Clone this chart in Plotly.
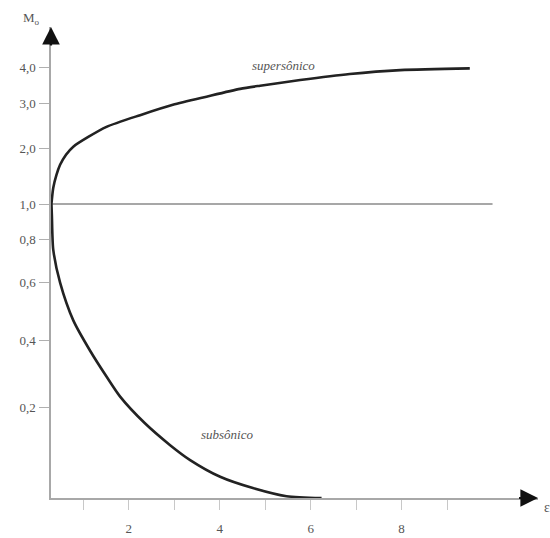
import numpy as np
import plotly.graph_objects as go

# ---- data (area ratio epsilon, Mach number) ----
sup_eps = [0.30, 0.34, 0.41, 0.49, 0.62, 0.78, 1.10, 1.51, 2.25, 2.97, 3.71, 4.45, 4.89, 5.77, 6.86, 7.97, 9.50]
sup_M   = [1.00, 1.29, 1.52, 1.70, 1.88, 2.03, 2.24, 2.47, 2.73, 2.96, 3.18, 3.40, 3.49, 3.65, 3.82, 3.93, 3.98]

sub_eps = [0.30, 0.31, 0.32, 0.34, 0.49, 0.78, 1.15, 1.51, 1.81, 2.35, 2.91, 3.35, 4.01, 4.73, 5.47, 6.24]
sub_M   = [1.00, 0.93, 0.83, 0.75, 0.60, 0.47, 0.37, 0.293, 0.233, 0.166, 0.117, 0.084, 0.047, 0.022, 0.004, 0.0]

sonic_eps = [0.29, 10.0]
sonic_M = [1.0, 1.0]

# ---- y axis scale (schematic, non-uniform Mach scale) ----
scale_M = [0.0, 0.2, 0.4, 0.6, 0.8, 1.0, 2.0, 3.0, 4.0]
scale_u = [0.0, 90.3, 157.3, 215.3, 259.0, 294.0, 350.0, 395.0, 430.3]
ytick_M = [0.2, 0.4, 0.6, 0.8, 1.0, 2.0, 3.0, 4.0]
ytick_text = ["0,2", "0,4", "0,6", "0,8", "1,0", "2,0", "3,0", "4,0"]

xtick_vals = [1, 2, 3, 4, 5, 6, 7, 8, 9]
xtick_text = ["", "2", "", "4", "", "6", "", "8", ""]


def yscale(m):
    return np.interp(np.asarray(m, dtype=float), scale_M, scale_u)


FONT = "Liberation Serif, Times New Roman, serif"
AX = "#a8a8a8"
TXT = "#555555"

X0, X1 = 0.29, 11.0
Y0, Y1 = 0.0, 471.0
PL, PT, PW, PH = 51, 27, 487, 471  # plot area in pixels


def px_to_paper(px, py):
    return (px - PL) / PW, (PT + PH - py) / PH


mx, my = px_to_paper(31, 18)
ex, ey = px_to_paper(547, 507)

fig = go.Figure()
fig.add_trace(go.Scatter(x=sonic_eps, y=yscale(sonic_M), mode="lines",
                         line=dict(color="#8a8a8a", width=1.5), hoverinfo="skip"))
fig.add_trace(go.Scatter(x=sup_eps, y=yscale(sup_M), mode="lines",
                         line=dict(color="#222222", width=2.6, shape="spline", smoothing=0.7)))
fig.add_trace(go.Scatter(x=sub_eps, y=yscale(sub_M), mode="lines",
                         line=dict(color="#222222", width=2.6, shape="spline", smoothing=0.7)))

annotations = [
    dict(x=X1, y=Y0, ax=X1 - 0.45, ay=Y0, xref="x", yref="y", axref="x", ayref="y",
         text="", showarrow=True, arrowhead=2, arrowsize=1.6, arrowwidth=2.2, arrowcolor="#111111"),
    dict(x=X0, y=Y1, ax=X0, ay=Y1 - 20, xref="x", yref="y", axref="x", ayref="y",
         text="", showarrow=True, arrowhead=2, arrowsize=1.6, arrowwidth=2.2, arrowcolor="#111111"),
    dict(x=mx, y=my, xref="paper", yref="paper", text="M<sub>o</sub>", showarrow=False,
         xanchor="center", yanchor="middle", font=dict(family=FONT, size=13, color=TXT)),
    dict(x=ex, y=ey, xref="paper", yref="paper", text="ε", showarrow=False,
         xanchor="center", yanchor="middle", font=dict(family=FONT, size=14, color=TXT)),
    dict(x=5.4, y=498 - 65, xref="x", yref="y", text="<i>supersônico</i>", showarrow=False,
         font=dict(family=FONT, size=13, color=TXT)),
    dict(x=4.18, y=498 - 434, xref="x", yref="y", text="<i>subsônico</i>", showarrow=False,
         font=dict(family=FONT, size=13, color=TXT)),
]

fig.update_layout(
    width=550, height=538,
    margin=dict(l=PL, r=550 - PL - PW, t=PT, b=538 - PT - PH, autoexpand=False),
    paper_bgcolor="white", plot_bgcolor="white",
    showlegend=False,
    annotations=annotations,
    xaxis=dict(range=[X0, X1], showgrid=False, zeroline=False, showline=True, automargin=False,
               linecolor=AX, linewidth=1.5, ticks="outside", ticklen=10, tickwidth=1.3,
               tickcolor="#c8c8c8", tickvals=xtick_vals, ticktext=xtick_text,
               ticklabelstandoff=8,
               tickfont=dict(family=FONT, size=13, color=TXT)),
    yaxis=dict(range=[Y0, Y1], showgrid=False, zeroline=False, showline=True, automargin=False,
               linecolor=AX, linewidth=1.5, ticks="outside", ticklen=10, tickwidth=1.3,
               tickcolor="#b0b0b0", tickvals=list(yscale(ytick_M)), ticktext=ytick_text,
               ticklabelstandoff=1,
               tickfont=dict(family=FONT, size=13, color=TXT)),
)

fig.write_html("out.html", config={"displayModeBar": False},
               post_script="document.body.style.margin='0px';")
